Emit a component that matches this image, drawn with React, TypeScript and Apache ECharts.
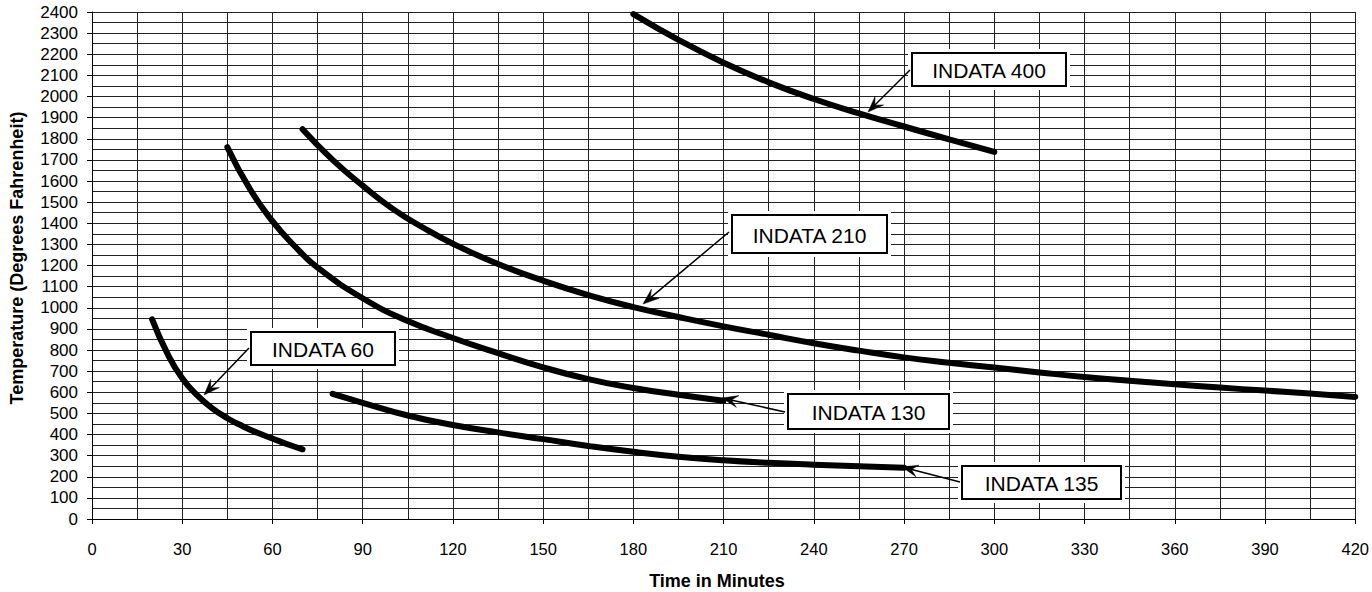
import React, { useEffect, useRef } from "react";
import * as echarts from "echarts";

// Time (minutes), Temperature (°F)
const indata60: number[][] = [
  [20, 945], [25, 785], [30, 666], [35, 585], [40, 524], [45, 477],
  [50, 440], [55, 408], [60, 381], [65, 354], [70, 330],
];
const indata130: number[][] = [
  [45, 1760], [52.5, 1562], [60, 1410], [67.5, 1290], [75, 1190], [90, 1045],
  [105, 937], [120, 857], [135, 785], [150, 718], [165, 662], [180, 620],
  [195, 588], [210, 560],
];
const indata210: number[][] = [
  [70, 1845], [80, 1700], [90, 1578], [100, 1468], [110, 1380], [120, 1303],
  [135, 1207], [150, 1128], [165, 1060], [180, 1003], [195, 956], [210, 912],
  [225, 872], [240, 832], [255, 797], [270, 765], [285, 740], [300, 717],
  [315, 694], [330, 672], [345, 654], [360, 638], [375, 622], [390, 608],
  [405, 594], [420, 578],
];
const indata135: number[][] = [
  [80, 592], [90, 550], [105, 490], [120, 445], [135, 410], [150, 378],
  [165, 346], [180, 318], [195, 295], [210, 278], [225, 266], [240, 257],
  [255, 250], [270, 243],
];
const indata400: number[][] = [
  [180, 2390], [195, 2268], [210, 2160], [225, 2067], [240, 1988],
  [255, 1920], [270, 1858], [285, 1797], [300, 1738],
];

const seriesNames = ["INDATA 60", "INDATA 130", "INDATA 210", "INDATA 135", "INDATA 400"];
const seriesData = [indata60, indata130, indata210, indata135, indata400];

const xTitle = "Time in Minutes";
const yTitle = "Temperature (Degrees Fahrenheit)";

// Callout boxes (pixel layout) and arrows
const callouts = [
  { text: "INDATA 60", box: [251, 332, 144, 33], from: [249, 348], to: [204, 395] },
  { text: "INDATA 210", box: [732, 215, 155, 38], from: [729, 232], to: [643, 304] },
  { text: "INDATA 130", box: [788, 394, 161, 35], from: [785, 412], to: [722, 398] },
  { text: "INDATA 135", box: [962, 466, 159, 33], from: [960, 482], to: [902, 467] },
  { text: "INDATA 400", box: [912, 53, 154, 33], from: [910, 70], to: [868, 112] },
];

const FONT = "'Liberation Sans', Arial, Helvetica, sans-serif";

function buildCallout(c: (typeof callouts)[number]) {
  const [bx, by, bw, bh] = c.box;
  const [sx, sy] = c.from;
  const [tx, ty] = c.to;
  const dx = tx - sx;
  const dy = ty - sy;
  const len = Math.sqrt(dx * dx + dy * dy);
  const ux = dx / len;
  const uy = dy / len;
  const nx = -uy;
  const ny = ux;
  const L = 16;
  const W = 12;
  const b1 = [tx - ux * L + (nx * W) / 2, ty - uy * L + (ny * W) / 2];
  const b2 = [tx - ux * L - (nx * W) / 2, ty - uy * L - (ny * W) / 2];
  const inner = [tx - ux * L * 0.6, ty - uy * L * 0.6];
  const pad = 4;
  return [
    {
      type: "rect",
      shape: { x: bx - pad, y: by - pad, width: bw + pad * 2, height: bh + pad * 2 },
      style: { fill: "#fff", stroke: "none" },
      z: 10,
    },
    {
      type: "rect",
      shape: { x: bx, y: by, width: bw, height: bh },
      style: { fill: "#fff", stroke: "#000", lineWidth: 2 },
      z: 11,
    },
    {
      type: "text",
      x: bx + bw / 2,
      y: by + bh / 2 + 1,
      style: {
        text: c.text,
        fill: "#000",
        font: `21px ${FONT}`,
        align: "center",
        verticalAlign: "middle",
      },
      z: 12,
    },
    {
      type: "line",
      shape: { x1: sx, y1: sy, x2: tx - ux * 8, y2: ty - uy * 8 },
      style: { stroke: "#000", lineWidth: 1.5 },
      z: 12,
    },
    {
      type: "polygon",
      shape: { points: [[tx, ty], b1, inner, b2] },
      style: { fill: "#000", stroke: "#000", lineWidth: 0.5 },
      z: 12,
    },
  ];
}

export default function App() {
  const ref = useRef<HTMLDivElement>(null);

  useEffect(() => {
    document.body.style.margin = "0";
    if (!ref.current) return;
    const chart = echarts.init(ref.current, undefined, { renderer: "svg" });
    const gridColor = "#222";
    const graphics: any[] = [];
    callouts.forEach((c) => graphics.push(...buildCallout(c)));
    graphics.push({
      type: "text",
      x: 717,
      y: 581,
      style: {
        text: xTitle,
        fill: "#000",
        font: `bold 18px ${FONT}`,
        align: "center",
        verticalAlign: "middle",
      },
    });
    graphics.push({
      type: "text",
      x: 17,
      y: 258,
      rotation: Math.PI / 2,
      style: {
        text: yTitle,
        fill: "#000",
        font: `bold 18px ${FONT}`,
        align: "center",
        verticalAlign: "middle",
      },
    });

    chart.setOption({
      animation: false,
      backgroundColor: "#fff",
      grid: { left: 92, right: 14, top: 12, bottom: 73, containLabel: false },
      xAxis: {
        type: "value",
        min: 0,
        max: 420,
        interval: 30,
        axisLine: { show: true, lineStyle: { color: "#000", width: 1 } },
        axisTick: { show: true, length: 5, lineStyle: { color: "#000" } },
        axisLabel: {
          color: "#000",
          fontSize: 16.5,
          fontFamily: FONT,
          margin: 21,
          formatter: (v: number) => String(v),
        },
        splitLine: { show: true, lineStyle: { color: gridColor, width: 1 } },
        minorTick: { show: false, splitNumber: 2 },
        minorSplitLine: { show: true, lineStyle: { color: gridColor, width: 1 } },
      },
      yAxis: {
        type: "value",
        min: 0,
        max: 2400,
        interval: 100,
        axisLine: { show: true, lineStyle: { color: "#000", width: 1 } },
        axisTick: { show: true, length: 5, lineStyle: { color: "#000" } },
        axisLabel: {
          color: "#000",
          fontSize: 17,
          fontFamily: FONT,
          margin: 14,
          formatter: (v: number) => String(v),
        },
        splitLine: { show: true, lineStyle: { color: gridColor, width: 1 } },
        minorTick: { show: false, splitNumber: 2 },
        minorSplitLine: { show: true, lineStyle: { color: gridColor, width: 1 } },
      },
      series: seriesData.map((d, i) => ({
        name: seriesNames[i],
        type: "line",
        data: d,
        smooth: 0.5,
        showSymbol: false,
        symbol: "none",
        silent: true,
        lineStyle: { color: "#000", width: 6, cap: "round", join: "round" },
        z: 5,
      })),
      graphic: graphics,
    });
    return () => chart.dispose();
  }, []);

  return <div ref={ref} style={{ width: 1372, height: 592 }} />;
}
